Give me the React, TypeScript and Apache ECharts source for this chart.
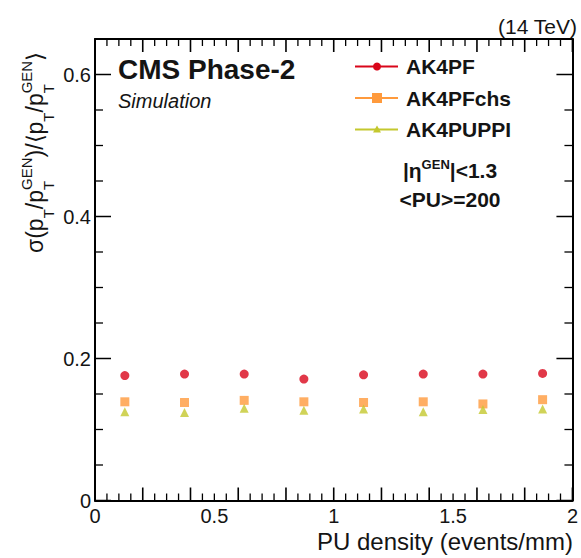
import React, { useEffect, useRef } from 'react';
import * as echarts from 'echarts';

const xValues = [0.125, 0.375, 0.625, 0.875, 1.125, 1.375, 1.625, 1.875];
const ak4pf = [0.176, 0.178, 0.178, 0.171, 0.177, 0.178, 0.178, 0.179];
const ak4pfchs = [0.139, 0.138, 0.141, 0.139, 0.138, 0.139, 0.136, 0.142];
const ak4puppi = [0.125, 0.124, 0.130, 0.127, 0.129, 0.125, 0.128, 0.129];
const seriesNames = ['AK4PF', 'AK4PFchs', 'AK4PUPPI'];
const seriesColors = ['#d9061a', '#ff9a3c', '#c4c82e'];
const seriesSymbols = ['circle', 'rect', 'triangle'];

const X_MIN = 0;
const X_MAX = 2;
const Y_MIN = 0;
const Y_MAX = 0.65;

const FONT = '"Liberation Sans", Arial, Helvetica, sans-serif';
const INK = '#141414';

function measure(text: string, fs: number, weight = 'normal') {
  const c = document.createElement('canvas');
  const ctx = c.getContext('2d')!;
  ctx.font = `${weight} ${fs}px ${FONT}`;
  return ctx.measureText(text).width;
}

function buildYTitle() {
  const M = 23;
  const S = 15;
  const subDrop = 10;
  const supRise = 12;
  const parts: { main?: string; sub?: string; sup?: string }[] = [
    { main: 'σ(p' }, { sub: 'T' }, { main: '/p' }, { sub: 'T', sup: 'GEN' },
    { main: ')/⟨p' }, { sub: 'T' }, { main: '/p' }, { sub: 'T', sup: 'GEN' }, { main: '⟩' },
  ];
  const children: any[] = [];
  let u = 0;
  for (const p of parts) {
    if (p.main) {
      children.push({ type: 'text', x: u, y: -0.33 * M, style: { text: p.main, font: `${M}px ${FONT}`, fill: INK, align: 'left', verticalAlign: 'middle' } });
      u += measure(p.main, M);
    } else {
      let w = 0;
      if (p.sub) {
        children.push({ type: 'text', x: u, y: subDrop - 0.33 * S, style: { text: p.sub, font: `${S}px ${FONT}`, fill: INK, align: 'left', verticalAlign: 'middle' } });
        w = Math.max(w, measure(p.sub, S));
      }
      if (p.sup) {
        children.push({ type: 'text', x: u, y: -supRise - 0.33 * S, style: { text: p.sup, font: `${S}px ${FONT}`, fill: INK, align: 'left', verticalAlign: 'middle' } });
        w = Math.max(w, measure(p.sup, S));
      }
      u += w;
    }
  }
  return { type: 'group', x: 43, y: 253, rotation: Math.PI / 2, children };
}

// tick marks: [value, code]; code 0/1 = y minor/major, 2/3 = x minor/major
function buildTicks(max: number, base: number) {
  const ticks: number[][] = [];
  const n = Math.round(max / 0.05);
  for (let i = 0; i <= n; i++) {
    ticks.push([Math.round(i * 5) / 100, base + (i % 4 === 0 ? 1 : 0)]);
  }
  return ticks;
}

export default function App() {
  const ref = useRef<HTMLDivElement>(null);
  useEffect(() => {
    const chart = echarts.init(ref.current!, null, { renderer: 'svg' });
    const axisLine = { show: true, onZero: false, lineStyle: { color: '#000', width: 2 } };
    const hidden = { show: false };
    const xBase = { type: 'value', min: X_MIN, max: X_MAX, splitLine: hidden };
    const yBase = { type: 'value', min: Y_MIN, max: Y_MAX, splitLine: hidden };

    const legendYs = [66.5, 98, 129.5];
    const legendGraphics: any[] = [];
    seriesNames.forEach((name, i) => {
      const y = legendYs[i];
      const col = seriesColors[i];
      legendGraphics.push({ type: 'line', shape: { x1: 355, y1: y, x2: 398, y2: y }, style: { stroke: col, lineWidth: 2 } });
      if (i === 0) legendGraphics.push({ type: 'circle', shape: { cx: 377, cy: y, r: 4 }, style: { fill: col } });
      if (i === 1) legendGraphics.push({ type: 'rect', shape: { x: 372, y: y - 5, width: 10, height: 10 }, style: { fill: col } });
      if (i === 2) legendGraphics.push({ type: 'polygon', shape: { points: [[377, y - 4], [381, y + 3], [373, y + 3]] }, style: { fill: col } });
      legendGraphics.push({ type: 'text', x: 406, y: y, style: { text: name, font: `bold 21px ${FONT}`, fill: INK, align: 'left', verticalAlign: 'middle' } });
    });

    const tickSeries = {
      type: 'custom', silent: true, clip: false, z: 5,
      xAxisIndex: 0, yAxisIndex: 0,
      data: [...buildTicks(Y_MAX, 0), ...buildTicks(X_MAX, 2)],
      renderItem: (_params: any, api: any) => {
        const v = api.value(0);
        const code = api.value(1);
        const major = code === 1 || code === 3;
        const style = { stroke: '#000', lineWidth: major ? 1.5 : 1.3 };
        if (code >= 2) {
          const x = api.coord([v, Y_MIN])[0];
          const yb = api.coord([X_MIN, Y_MIN])[1];
          const yt = api.coord([X_MIN, Y_MAX])[1];
          const len = major ? 13 : 7;
          const w = major ? 1.6 : 1.3;
          return {
            type: 'group',
            children: [
              { type: 'rect', shape: { x: x - w / 2, y: yb - len, width: w, height: len }, style: { fill: '#000' } },
              { type: 'rect', shape: { x: x - w / 2, y: yt, width: w, height: len }, style: { fill: '#000' } },
            ],
          };
        }
        const y = api.coord([X_MIN, v])[1];
        const xl = api.coord([X_MIN, v])[0];
        const xr = api.coord([X_MAX, v])[0];
        const len = major ? 16 : 8;
        return {
          type: 'group',
          children: [
            { type: 'line', shape: { x1: xl, y1: y, x2: xl + len, y2: y }, style },
            { type: 'line', shape: { x1: xr, y1: y, x2: xr - len, y2: y }, style },
          ],
        };
      },
    };

    const baseGraphics: any[] = [
      { type: 'text', x: 118, y: 69.5, style: { text: 'CMS Phase-2', font: `bold 28px ${FONT}`, fill: INK, align: 'left', verticalAlign: 'middle' } },
      { type: 'text', x: 118, y: 101, style: { text: 'Simulation', font: `italic 20px ${FONT}`, fill: INK, align: 'left', verticalAlign: 'middle' } },
      { type: 'text', x: 577, y: 26, style: { text: '(14 TeV)', font: `21px ${FONT}`, fill: INK, align: 'right', verticalAlign: 'middle' } },
      { type: 'text', x: 573, y: 541, style: { text: 'PU density (events/mm)', font: `24px ${FONT}`, fill: INK, align: 'right', verticalAlign: 'middle' } },
      {
        type: 'text', x: 450, y: 170,
        style: {
          text: '{a||η}{s|GEN}{a||<1.3}', align: 'center', verticalAlign: 'middle',
          rich: {
            a: { font: `bold 21px ${FONT}`, fill: INK, color: INK, lineHeight: 24 },
            s: { font: `bold 13px ${FONT}`, fill: INK, color: INK, lineHeight: 24, verticalAlign: 'top' },
          },
        },
      },
      { type: 'text', x: 450, y: 199.5, style: { text: '<PU>=200', font: `bold 21px ${FONT}`, fill: INK, align: 'center', verticalAlign: 'middle' } },
      ...legendGraphics,
      buildYTitle(),
    ];

    const option: any = {
      animation: false,
      backgroundColor: '#fff',
      grid: { left: 95, right: 7, top: 39, bottom: 57.5 },
      xAxis: [
        {
          ...xBase, position: 'bottom', interval: 0.5,
          axisLine, axisTick: hidden,
          axisLabel: { fontSize: 20, fontFamily: FONT, color: INK, margin: 5 },
        },
        { ...xBase, position: 'top', axisLine, axisTick: hidden, axisLabel: hidden },
      ],
      yAxis: [
        {
          ...yBase, position: 'left', interval: 0.2,
          axisLine, axisTick: hidden,
          axisLabel: { fontSize: 20, fontFamily: FONT, color: INK, margin: 4, showMaxLabel: false,
            formatter: (v: number) => (Math.abs(v * 5 - Math.round(v * 5)) < 1e-6 ? String(Math.round(v * 10) / 10) : '') },
        },
        { ...yBase, position: 'right', axisLine, axisTick: hidden, axisLabel: hidden },
      ],
      series: [
        tickSeries,
        ...[ak4pf, ak4pfchs, ak4puppi].map((vals, i) => ({
          type: 'scatter',
          name: seriesNames[i],
          xAxisIndex: 0,
          yAxisIndex: 0,
          symbol: seriesSymbols[i],
          symbolSize: 9,
          z: 10,
          itemStyle: { color: seriesColors[i] },
          data: xValues.map((x, j) => [x, vals[j]]),
        })),
      ],
      graphic: baseGraphics,
    };
    chart.setOption(option);

    return () => chart.dispose();
  }, []);
  return <div ref={ref} style={{ position: 'fixed', left: 0, top: 0, width: 581, height: 558, background: '#fff' }} />;
}
